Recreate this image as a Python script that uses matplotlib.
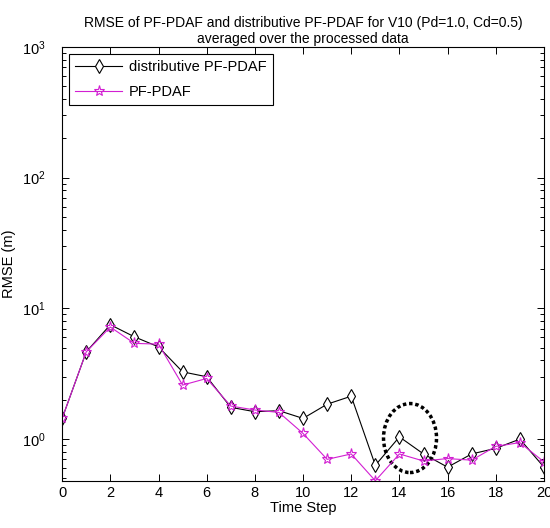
import matplotlib.pyplot as plt
from matplotlib.patches import Ellipse
from matplotlib.ticker import LogLocator, NullFormatter

plt.rcParams['font.family'] = ['Liberation Sans', 'DejaVu Sans']

# data
steps = list(range(21))
dist_pf_pdaf = [1.44, 4.65, 7.5, 6.06, 5.08, 3.27, 3.0, 1.75, 1.62, 1.65, 1.44,
                1.85, 2.13, 0.63, 1.04, 0.77, 0.61, 0.77, 0.85, 1.0, 0.61]
pf_pdaf = [1.44, 4.65, 7.2, 5.4, 5.33, 2.59, 2.91, 1.79, 1.67, 1.6, 1.105,
           0.70, 0.77, 0.48, 0.77, 0.68, 0.71, 0.69, 0.88, 0.94, 0.67]

fig = plt.figure(figsize=(5.5, 5.28), dpi=100)
ax = fig.add_axes([0.113, 0.089, 0.876, 0.822])

ax.semilogy(steps, dist_pf_pdaf, color='black', lw=0.8, marker='d',
            ms=7, mfc='white', mec='black', mew=0.8, label='distributive PF-PDAF')
ax.semilogy(steps, pf_pdaf, color='#d21fd2', lw=0.8, marker='*',
            ms=8, mfc='none', mec='#d21fd2', mew=0.8, label='PF-PDAF')

# dotted circle highlighting steps 14-15
ax.add_patch(Ellipse((0.722, 0.099), 0.11, 0.159, transform=ax.transAxes,
                     fill=False, ls=(0, (1, 0.8)), lw=2.5, color='black'))

ax.set_xlim(0, 20)
ax.set_ylim(0.478, 1000)
ax.set_xticks(range(0, 21, 2))
ax.yaxis.set_major_locator(LogLocator(base=10, numticks=10))
ax.yaxis.set_minor_locator(LogLocator(base=10, subs=range(2, 10), numticks=20))
ax.yaxis.set_minor_formatter(NullFormatter())
ax.tick_params(which='both', direction='in', top=True, right=True, labelsize=10.5)
ax.tick_params(which='major', length=5, width=0.7)
ax.tick_params(which='minor', length=3, width=0.7)
ax.tick_params(axis='y', which='major', pad=12)
for s in ax.spines.values():
    s.set_linewidth(0.8)

ax.set_xlabel('Time Step', fontsize=10.5, labelpad=1)
ax.set_ylabel('RMSE (m)', fontsize=10.5, labelpad=4)
ax.set_title('RMSE of PF-PDAF and distributive PF-PDAF for V10 (Pd=1.0, Cd=0.5)\n'
             'averaged over the processed data', fontsize=10, pad=3)

leg = ax.legend(loc='upper left', fontsize=10.5, fancybox=False, framealpha=1,
                edgecolor='black', handlelength=3.2, numpoints=1,
                labelspacing=0.75, borderaxespad=0.5, handletextpad=0.5)
leg.get_frame().set_linewidth(0.8)

fig.savefig('out.png', dpi=100)
